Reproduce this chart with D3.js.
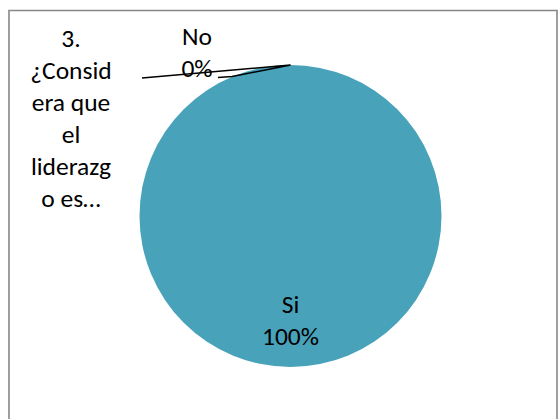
<!DOCTYPE html>
<html>
<head>
<meta charset="utf-8">
<script src="https://cdn.jsdelivr.net/npm/d3@7/dist/d3.min.js"></script>
<style>
  html, body { margin: 0; padding: 0; background: #fff; }
  svg { display: block; }
  text { font-family: Carlito, Lato, "Liberation Sans", sans-serif; fill: #000; }
</style>
</head>
<body>
<svg id="chart" width="558" height="419"></svg>
<script>
// Data
const categories = ["Si", "No"];
const values = [100, 0];
const percentLabels = ["100%", "0%"];
const titleLines = ["3.", "¿Consid", "era que", "el", "liderazg", "o es…"];
const colors = ["#48A2BA", "#C0504D"];

const svg = d3.select("#chart");
const W = 558, H = 419;

// chart border
svg.append("path")
  .attr("d", `M557,${H + 2} L557,10.5 L9,10.5 L9,${H + 2}`)
  .attr("fill", "none").attr("stroke", "#878787").attr("stroke-width", 1.6);

const cx = 290.5, cy = 216, r = 151;
const fontSize = 25.5, lineH = 32;

const pie = d3.pie().sort(null).value(d => d)(values);
const arc = d3.arc().innerRadius(0).outerRadius(r);
const g = svg.append("g").attr("transform", `translate(${cx},${cy})`);

g.selectAll("path.slice").data(pie).enter().append("path")
  .attr("class", "slice")
  .attr("d", arc)
  .attr("fill", (d, i) => colors[i]);

// Label for Si inside
const labelArc = d3.arc().innerRadius(r * 0.69).outerRadius(r * 0.69);
const siC = labelArc.centroid(pie[0]);
const siT = g.append("text").attr("text-anchor", "middle").style("font-size", fontSize + "px");
siT.append("tspan").attr("x", siC[0]).attr("y", siC[1] - 7).text(categories[0]);
siT.append("tspan").attr("x", siC[0]).attr("y", siC[1] - 7 + lineH).text(percentLabels[0]);

// Label for No outside with leader line
const noPoint = d3.arc().innerRadius(r).outerRadius(r).centroid(pie[1]);
const noX = cx - 93.5, noBase = 45;
const noT = svg.append("text").attr("text-anchor", "middle").style("font-size", fontSize + "px");
noT.append("tspan").attr("x", noX).attr("y", noBase).text(categories[1]);
noT.append("tspan").attr("x", noX).attr("y", noBase + lineH).text(percentLabels[1]);

const tip = [cx + noPoint[0], cy + noPoint[1]];
svg.append("path")
  .attr("d", d3.line()([[142, 78], tip, [232, 76.5], [218, 77.5]]))
  .attr("fill", "none").attr("stroke", "#000").attr("stroke-width", 1.4);

// Title
const tt = svg.append("text").attr("text-anchor", "middle").style("font-size", fontSize + "px");
titleLines.forEach((s, i) => {
  tt.append("tspan").attr("x", 71).attr("y", 47 + i * lineH).text(s);
});
</script>
</body>
</html>
